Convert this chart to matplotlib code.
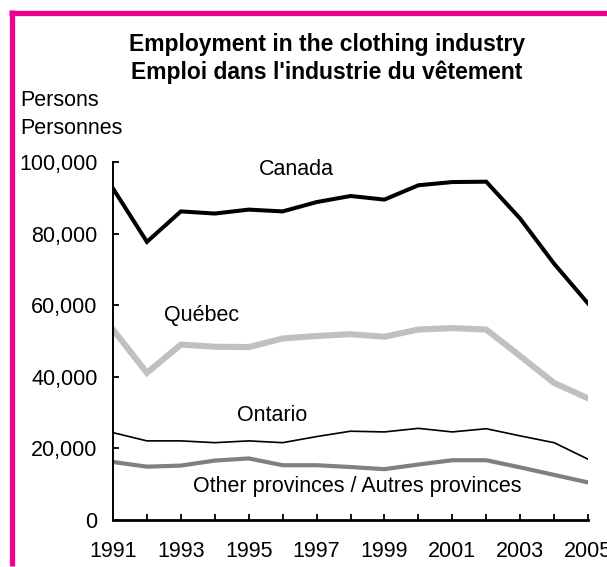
import matplotlib
matplotlib.use("Agg")
import matplotlib.pyplot as plt
from matplotlib.lines import Line2D

plt.rcParams["font.family"] = ["Liberation Sans", "DejaVu Sans"]

# data (persons)
years = list(range(1991, 2006))
canada = [92600, 77700, 86200, 85600, 86700, 86200, 88800, 90500,
          89500, 93500, 94400, 94500, 84200, 71600, 60500]
quebec = [53200, 41100, 49000, 48400, 48300, 50700, 51400, 51900,
          51200, 53200, 53600, 53200, 45800, 38300, 34000]
ontario = [24400, 22100, 22100, 21600, 22100, 21600, 23300, 24800,
           24600, 25600, 24600, 25500, 23500, 21600, 17000]
other = [16200, 14900, 15200, 16600, 17200, 15300, 15300, 14800,
         14200, 15500, 16700, 16700, 14700, 12600, 10500]

tick_labels = [str(y) if y % 2 == 1 else "" for y in years]
y_ticks = [0, 20000, 40000, 60000, 80000, 100000]

FS = 15.5
W, H = 607, 567
fig = plt.figure(figsize=(W / 100, H / 100), dpi=100)
ax = fig.add_axes([113 / W, 1 - 520 / H, 475 / W, 358 / H])

ax.plot(years, canada, color="black", lw=2.9, solid_joinstyle="miter")
ax.plot(years, quebec, color="#c0c0c0", lw=4.4, solid_joinstyle="miter")
ax.plot(years, ontario, color="black", lw=1.2)
ax.plot(years, other, color="#808080", lw=3.0)

ax.set_xlim(1991, 2005)
ax.set_ylim(0, 100000)
ax.set_xticks(years)
ax.set_xticklabels(tick_labels)
ax.set_yticks(y_ticks)
ax.set_yticklabels([f"{v:,}" for v in y_ticks])
ax.tick_params(axis="both", direction="in", length=4, width=1.3, labelsize=FS)
ax.tick_params(axis="x", pad=15)
ax.tick_params(axis="y", pad=11)
for s in ["top", "right"]:
    ax.spines[s].set_visible(False)
ax.spines["left"].set_linewidth(1.4)
ax.spines["bottom"].set_linewidth(2)

# series labels
ax.text(1996.4, 97900, "Canada", fontsize=FS, ha="center", va="center")
ax.text(1993.6, 57200, "Québec", fontsize=FS, ha="center", va="center")
ax.text(1995.7, 29300, "Ontario", fontsize=FS, ha="center", va="center")
ax.text(1998.2, 9300, "Other provinces / Autres provinces", fontsize=FS,
        ha="center", va="center")

# titles
fig.text(327 / W, 1 - 45 / H, "Employment in the clothing industry",
         fontsize=16.5, fontweight="bold", ha="center", va="center")
fig.text(327 / W, 1 - 72 / H, "Emploi dans l'industrie du vêtement",
         fontsize=16.5, fontweight="bold", ha="center", va="center")
fig.text(20 / W, 1 - 101 / H, "Persons", fontsize=FS, ha="left", va="center")
fig.text(20 / W, 1 - 128 / H, "Personnes", fontsize=FS, ha="left", va="center")

# magenta frame
pink = "#ec008c"
fig.add_artist(Line2D([11.5 / W, 11.5 / W], [1 - 10 / H, 1 - 566 / H],
                      color=pink, lw=3.8, solid_capstyle="butt"))
fig.add_artist(Line2D([9 / W, 1.0], [1 - 12.5 / H, 1 - 12.5 / H],
                      color=pink, lw=3.8, solid_capstyle="butt"))

fig.savefig("out.png", dpi=100)
